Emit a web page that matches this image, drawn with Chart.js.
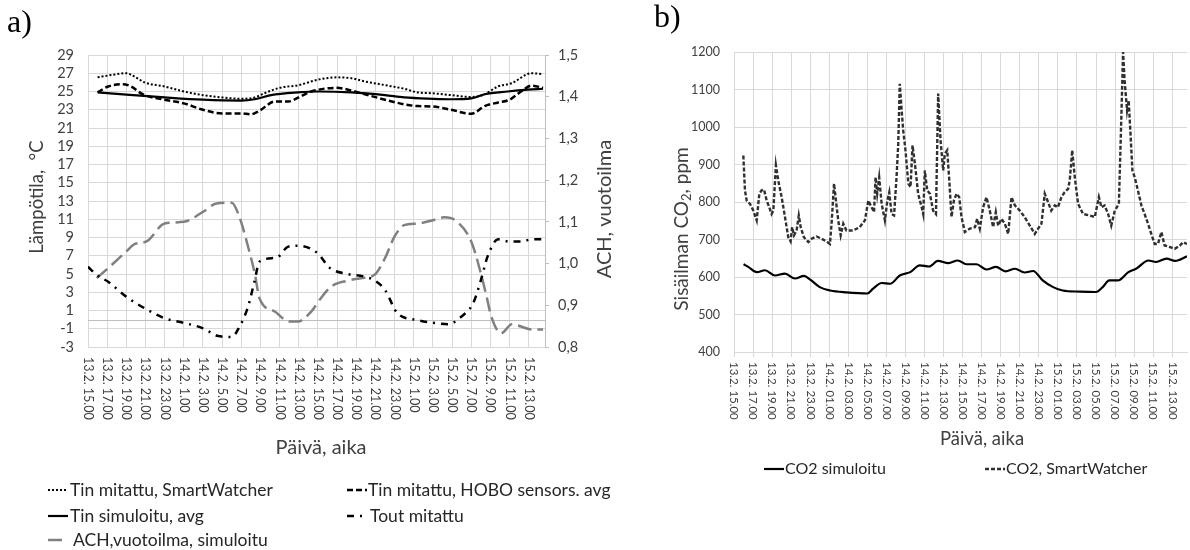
<!DOCTYPE html>
<html lang="fi">
<head>
<meta charset="utf-8">
<title>Lämpötila ja CO2</title>
<script src="https://cdn.jsdelivr.net/npm/chart.js@4"></script>
<style>
  html, body { margin: 0; padding: 0; background: #fff; }
  #wrap { position: relative; width: 1190px; height: 550px; background: #fff; overflow: hidden; }
  canvas { position: absolute; top: 0; }
  #cA { left: 0; }
  #cB { left: 620px; }
</style>
</head>
<body>
<div id="wrap">
  <canvas id="cA" width="620" height="550"></canvas>
  <canvas id="cB" width="570" height="550"></canvas>
</div>
<script>
// ---- Tick labels (every 2 hours from 13.2. 15.00) ----
const tickLabelsA = ["13.2. 15.00","13.2. 17.00","13.2. 19.00","13.2. 21.00","13.2. 23.00",
  "14.2. 1.00","14.2. 3.00","14.2. 5.00","14.2. 7.00","14.2. 9.00","14.2. 11.00","14.2. 13.00",
  "14.2. 15.00","14.2. 17.00","14.2. 19.00","14.2. 21.00","14.2. 23.00",
  "15.2. 1.00","15.2. 3.00","15.2. 5.00","15.2. 7.00","15.2. 9.00","15.2. 11.00","15.2. 13.00"];
const tickLabelsB = ["13.2. 15.00","13.2. 17.00","13.2. 19.00","13.2. 21.00","13.2. 23.00",
  "14.2. 01.00","14.2. 03.00","14.2. 05.00","14.2. 07.00","14.2. 09.00","14.2. 11.00","14.2. 13.00",
  "14.2. 15.00","14.2. 17.00","14.2. 19.00","14.2. 21.00","14.2. 23.00",
  "15.2. 01.00","15.2. 03.00","15.2. 05.00","15.2. 07.00","15.2. 09.00","15.2. 11.00","15.2. 13.00"];

// ---- a) temperatures (hours since 13.2. 15.00) ----
const swHours = [1, 2.4, 4, 4.9, 5.9, 8, 10, 12, 14, 16, 17.4, 18.4, 20, 22, 24, 26, 27.5, 28.9, 31, 33, 34.4, 36, 37.9, 40, 41.2, 42.8, 44.2, 46.3, 47.5];
const swTemp  = [26.55, 26.8, 27.0, 26.6, 26.0, 25.55, 25.0, 24.6, 24.35, 24.2, 24.35, 24.8, 25.4, 25.7, 26.3, 26.55, 26.45, 26.1, 25.7, 25.3, 24.9, 24.8, 24.6, 24.4, 24.6, 25.55, 25.9, 27.0, 26.9];

const hoboHours = [1, 2.1, 3.65, 4.5, 5.7, 8, 10, 12, 14, 16, 17, 17.9, 19.5, 20.9, 22, 23.3, 26, 27.5, 28.9, 31, 33, 34.4, 36, 37.9, 40, 41.4, 42.8, 44, 45.2, 46.3, 47.5];
const hoboTemp  = [24.9, 25.55, 25.8, 25.55, 24.7, 24.1, 23.7, 23.0, 22.6, 22.6, 22.5, 22.9, 23.9, 23.9, 24.35, 25.0, 25.4, 25.1, 24.7, 24.1, 23.6, 23.4, 23.35, 23.0, 22.55, 23.4, 23.8, 24.1, 25.0, 25.65, 25.4];

const simHours = [1, 4, 8, 12, 16, 17.4, 19.1, 21.9, 24, 27.5, 31, 33, 36, 37.9, 40, 41.4, 43.8, 45.9, 47.5];
const simTemp  = [24.9, 24.65, 24.35, 24.1, 24.0, 24.15, 24.6, 24.9, 25.0, 24.9, 24.6, 24.35, 24.2, 24.15, 24.25, 24.7, 25.0, 25.2, 25.3];

const toutHours = [0, 0.9, 2.1, 4, 5.9, 8, 10, 12, 13.6, 15, 15.8, 16.7, 17.4, 17.9, 19.7, 20.9, 21.9, 24, 25.2, 27.1, 28.9, 29.9, 31, 32.3, 34.4, 36, 37.6, 39, 40.2, 41, 41.7, 42.8, 44, 45.2, 46.3, 47.5];
const toutTemp  = [5.8, 4.9, 4.15, 2.5, 1.25, 0.15, -0.35, -0.95, -1.8, -1.9, -0.8, 1.4, 4.3, 6.35, 6.8, 8.0, 8.1, 7.25, 5.7, 5.0, 4.7, 4.3, 3.25, 0.7, -0.05, -0.35, -0.5, 0.35, 1.8, 4.3, 6.9, 8.8, 8.55, 8.55, 8.8, 8.8];

const achHours = [0.9, 2.1, 4, 4.9, 6.1, 8, 10, 12, 13.4, 15, 15.8, 16.7, 17.4, 17.9, 19.5, 21, 21.9, 23.3, 24.3, 25.4, 27.1, 28.5, 29.9, 31, 32, 33, 34.4, 36, 37.2, 38.3, 40, 41, 41.6, 42.1, 43.1, 44.3, 45.2, 46.3, 47.5];
const achValue = [0.965, 0.989, 1.029, 1.047, 1.053, 1.096, 1.100, 1.124, 1.144, 1.146, 1.112, 1.041, 0.977, 0.917, 0.885, 0.861, 0.861, 0.885, 0.917, 0.945, 0.959, 0.965, 0.973, 1.013, 1.065, 1.092, 1.096, 1.104, 1.111, 1.104, 1.053, 0.977, 0.921, 0.873, 0.833, 0.855, 0.849, 0.842, 0.842];

// ---- b) indoor CO2 ----
const co2SimHours = [1, 1.5, 2.4, 3.25, 4.3, 5.35, 6.4, 7.35, 8, 9, 10.1, 11.8, 14, 14.6, 15.5, 16.4, 17.4, 18.5, 19.5, 20.5, 21.4, 22.5, 23.5, 24.4, 25.45, 26.5, 27.5, 28.5, 29.5, 30.5, 31.4, 32.4, 33.5, 34.5, 36.3, 38, 38.7, 39.4, 40.3, 41.4, 42.2, 43.5, 44.3, 45.4, 46.3, 47.55];
const co2Sim      = [634, 627, 613, 618, 604, 609, 596, 603, 593, 573, 564, 559, 556, 569, 584, 582, 604, 613, 631, 628, 643, 637, 644, 634, 634, 620, 627, 615, 622, 612, 616, 591, 573, 564, 561, 560, 573, 591, 591, 613, 622, 644, 640, 649, 643, 655];

const co2SwHours = [0.98, 1.15, 1.33, 1.68, 2.03, 2.38, 2.66, 2.9, 3.15, 3.43, 3.7, 3.95, 4.13, 4.4, 4.65, 5.0, 5.35, 5.7, 5.94, 6.1, 6.3, 6.57, 6.8, 7.0, 7.34, 7.8, 8.15, 8.67, 9.2, 9.7, 10.07,
  10.24, 10.5, 10.7, 10.94, 11.2, 11.47, 11.8, 12.5, 13.2, 13.74, 14.1, 14.44, 14.7, 14.86, 15.03, 15.24, 15.5, 15.84, 16.1, 16.3, 16.54, 16.8, 17.06, 17.24, 17.4, 17.6, 17.76, 18.0, 18.3, 18.53,
  18.74, 18.99, 19.33, 19.7, 19.86, 20.03, 20.28, 20.56, 20.9, 21.2, 21.43, 21.68, 21.96, 22.13, 22.38, 22.6, 22.83, 23.08, 23.36, 23.64, 23.88, 24.23, 24.76, 25.3, 25.52, 25.8, 26.15, 26.5, 26.85,
  27.2, 27.48, 27.73, 28.08, 28.43, 28.78, 29.13, 29.48, 30.0, 30.5, 31.05, 31.57, 31.92, 32.27, 32.62, 32.97, 33.3, 33.67, 34.0, 34.37, 34.7, 35.07, 35.24, 35.5, 35.77, 36.12, 36.64, 37.34, 37.87,
  38.3, 38.57, 38.9, 39.27, 39.6, 39.97, 40.4, 40.66, 40.84, 41.0, 41.26, 41.43, 41.6, 41.82, 42.06, 42.4, 42.76, 43.1, 43.46, 43.8, 44.16, 44.5, 44.86, 45.2, 45.73, 46.26, 46.8, 47.15, 47.55];
const co2Sw = [924, 831, 804, 795, 777, 751, 822, 831, 833, 804, 786, 768, 777, 898, 857, 813, 760, 706, 695, 733, 711, 724, 764, 733, 706, 693, 702, 708, 702, 695, 688,
  742, 849, 804, 751, 711, 742, 724, 724, 733, 751, 804, 786, 773, 866, 822, 866, 795, 751, 804, 826, 768, 764, 866, 955, 1115, 1044, 991, 938, 849, 840,
  951, 902, 822, 786, 768, 884, 831, 822, 777, 768, 1089, 964, 884, 929, 938, 857, 760, 804, 822, 813, 760, 720, 729, 733, 755, 729, 786, 813, 777,
  733, 773, 737, 755, 742, 715, 813, 791, 777, 760, 737, 715, 729, 742, 822, 800, 777, 791, 786, 813, 826, 835, 857, 938, 866, 795, 768, 764, 760,
  813, 786, 791, 768, 737, 777, 795, 1027, 1200, 1124, 1044, 1071, 991, 884, 866, 831, 791, 768, 742, 715, 688, 688, 720, 684, 680, 675, 684, 693, 688];

const pts = (xs, ys) => xs.map((x, i) => ({ x, y: ys[i] }));

const FONT = 'Lato, "Open Sans", sans-serif';
const GRID = '#d9d9d9';
const TEXT = '#404040';

// Draws rotated category labels, axis titles, panel letter and legend.
const panelText = {
  id: 'panelText',
  beforeDatasetsDraw(chart, args, o) {
    if (!o.zeroLine) return;
    const { ctx, chartArea: ca, scales } = chart;
    const y = Math.round(scales.y.getPixelForValue(0)) + 0.5;
    ctx.save();
    ctx.strokeStyle = '#bfbfbf';
    ctx.lineWidth = 1;
    ctx.beginPath(); ctx.moveTo(ca.left, y); ctx.lineTo(ca.right, y); ctx.stroke();
    ctx.restore();
  },
  afterDraw(chart, args, o) {
    const { ctx, chartArea: ca, scales } = chart;
    ctx.save();
    // rotated x tick labels
    ctx.fillStyle = TEXT;
    ctx.font = o.xTickFont;
    ctx.textAlign = 'left';
    ctx.textBaseline = 'middle';
    o.tickLabels.forEach((lab, i) => {
      const px = scales.x.getPixelForValue(i * 2);
      ctx.save();
      ctx.translate(px, ca.bottom + o.xTickGap);
      ctx.rotate(Math.PI / 2);
      ctx.fillText(lab, 0, 0);
      ctx.restore();
    });
    // panel letter
    ctx.fillStyle = '#000';
    ctx.font = '32px "Liberation Serif", serif';
    ctx.textAlign = 'left';
    ctx.textBaseline = 'alphabetic';
    ctx.fillText(o.panel.text, o.panel.x, o.panel.y);
    // axis titles
    o.titles.forEach(t => {
      ctx.save();
      ctx.fillStyle = TEXT;
      ctx.font = t.font;
      ctx.textAlign = 'center';
      ctx.textBaseline = 'middle';
      ctx.translate(t.x, t.y);
      if (t.rot) ctx.rotate(t.rot);
      if (t.parts) {
        // text with a subscript part
        const widths = t.parts.map(p => { ctx.font = p.sub ? t.subFont : t.font; return ctx.measureText(p.s).width; });
        const total = widths.reduce((a, b) => a + b, 0);
        let cx = -total / 2;
        ctx.textAlign = 'left';
        t.parts.forEach((p, i) => {
          ctx.font = p.sub ? t.subFont : t.font;
          ctx.fillText(p.s, cx, p.sub ? 5 : 0);
          cx += widths[i];
        });
      } else {
        ctx.fillText(t.text, 0, 0);
      }
      ctx.restore();
    });
    // legend
    ctx.font = o.legendFont;
    ctx.textAlign = 'left';
    ctx.textBaseline = 'middle';
    o.legend.forEach(item => {
      const ds = chart.data.datasets[item.ds];
      ctx.save();
      ctx.strokeStyle = ds.borderColor;
      ctx.lineWidth = ds.borderWidth;
      ctx.setLineDash(ds.borderDash || []);
      ctx.beginPath();
      ctx.moveTo(item.x, item.y);
      ctx.lineTo(item.x + 20, item.y);
      ctx.stroke();
      ctx.restore();
      ctx.fillStyle = '#262626';
      ctx.fillText(ds.label, item.x + item.gap, item.y);
    });
    ctx.restore();
  }
};

const lineBase = { pointRadius: 0, fill: false, cubicInterpolationMode: 'monotone' };

// ---------------- Chart a ----------------
new Chart(document.getElementById('cA'), {
  type: 'line',
  data: {
    datasets: [
      { ...lineBase, label: 'Tin mitattu, SmartWatcher', data: pts(swHours, swTemp), borderColor: '#000', borderWidth: 2, borderDash: [2, 2], yAxisID: 'y' },
      { ...lineBase, label: 'Tin mitattu, HOBO sensors. avg', data: pts(hoboHours, hoboTemp), borderColor: '#000', borderWidth: 2.5, borderDash: [6, 3], yAxisID: 'y' },
      { ...lineBase, label: 'Tin simuloitu, avg', data: pts(simHours, simTemp), borderColor: '#000', borderWidth: 2.2, yAxisID: 'y' },
      { ...lineBase, label: 'Tout mitattu', data: pts(toutHours, toutTemp), borderColor: '#000', borderWidth: 2.5, borderDash: [7, 6, 2, 6], yAxisID: 'y' },
      { ...lineBase, label: 'ACH,vuotoilma, simuloitu', data: pts(achHours, achValue), borderColor: '#808080', borderWidth: 2.5, borderDash: [14, 6], yAxisID: 'y1' }
    ]
  },
  options: {
    responsive: false, animation: false,
    layout: { padding: { top: 55, right: 0, bottom: 0, left: 0 } },
    plugins: {
      legend: { display: false }, tooltip: { enabled: false },
      panelText: {
        zeroLine: true,
        tickLabels: tickLabelsA, xTickFont: '12.5px ' + FONT, xTickGap: 10,
        panel: { text: 'a)', x: 7, y: 32 },
        titles: [
          { text: 'Lämpötila,  °C', x: 37, y: 197, rot: -Math.PI / 2, font: '18.5px ' + FONT },
          { text: 'ACH, vuotoilma', x: 605, y: 209, rot: -Math.PI / 2, font: '20px ' + FONT },
          { text: 'Päivä, aika', x: 321, y: 448, font: '20px ' + FONT }
        ],
        legendFont: '17.5px ' + FONT,
        legend: [
          { ds: 0, x: 48, y: 490, gap: 22 },
          { ds: 1, x: 347, y: 490, gap: 21 },
          { ds: 2, x: 48, y: 516, gap: 22 },
          { ds: 3, x: 347, y: 516, gap: 23 },
          { ds: 4, x: 48, y: 540, gap: 25 }
        ]
      }
    },
    scales: {
      x: {
        type: 'linear', min: 0, max: 47.7,
        ticks: { display: false, stepSize: 2, includeBounds: false },
        grid: { color: GRID, drawTicks: false },
        border: { color: GRID },
        afterFit: s => { s.height = 203; }
      },
      y: {
        position: 'left', min: -3, max: 29,
        ticks: { stepSize: 2, autoSkip: false, color: TEXT, font: { family: FONT, size: 14.5 }, padding: 14 },
        grid: { color: GRID, drawTicks: false },
        border: { color: GRID },
        afterFit: s => { s.width = 88; }
      },
      y1: {
        position: 'right', min: 0.8, max: 1.5,
        ticks: { stepSize: 0.1, autoSkip: false, color: TEXT, font: { family: FONT, size: 14.5 }, padding: 9,
          callback: v => v.toFixed(1).replace('.', ',') },
        grid: { drawOnChartArea: false, drawTicks: true, tickLength: 4, color: '#bfbfbf' },
        border: { color: '#bfbfbf' },
        afterFit: s => { s.width = 75; }
      }
    }
  },
  plugins: [panelText]
});

// ---------------- Chart b ----------------
new Chart(document.getElementById('cB'), {
  type: 'line',
  data: {
    datasets: [
      { ...lineBase, label: 'CO2 simuloitu', data: pts(co2SimHours, co2Sim), borderColor: '#000', borderWidth: 2.2 },
      { pointRadius: 0, fill: false, tension: 0, label: 'CO2, SmartWatcher', data: pts(co2SwHours, co2Sw), borderColor: '#303030', borderWidth: 2.4, borderDash: [4, 2] }
    ]
  },
  options: {
    responsive: false, animation: false,
    layout: { padding: { top: 52, right: 3, bottom: 0, left: 0 } },
    plugins: {
      legend: { display: false }, tooltip: { enabled: false },
      panelText: {
        zeroLine: false,
        tickLabels: tickLabelsB, xTickFont: '11.5px ' + FONT, xTickGap: 10,
        panel: { text: 'b)', x: 34, y: 27 },
        titles: [
          { parts: [{ s: 'Sisäilman CO' }, { s: '2', sub: true }, { s: ', ppm' }], x: 62, y: 229, rot: -Math.PI / 2,
            font: '19px ' + FONT, subFont: '13px ' + FONT },
          { text: 'Päivä, aika', x: 362, y: 439, font: '18.5px ' + FONT }
        ],
        legendFont: '16px ' + FONT,
        legend: [
          { ds: 0, x: 144, y: 469, gap: 21 },
          { ds: 1, x: 365, y: 469, gap: 21 }
        ]
      }
    },
    scales: {
      x: {
        type: 'linear', min: 0, max: 47.55,
        ticks: { display: false, stepSize: 2, includeBounds: false },
        grid: { color: GRID, drawTicks: true, tickLength: 5 },
        border: { color: GRID },
        afterFit: s => { s.height = 198; }
      },
      y: {
        position: 'left', min: 400, max: 1200,
        ticks: { stepSize: 100, autoSkip: false, color: TEXT, font: { family: FONT, size: 12.5 }, padding: 14,
          callback: v => String(v) },
        grid: { color: GRID, drawTicks: false },
        border: { color: GRID },
        afterFit: s => { s.width = 114; }
      }
    }
  },
  plugins: [panelText]
});
</script>
</body>
</html>
